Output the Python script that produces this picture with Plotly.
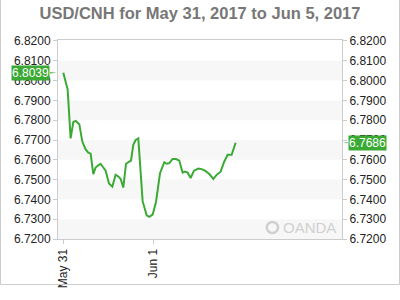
import plotly.graph_objects as go

times = [
    "2017-05-31 00:00", "2017-05-31 01:09", "2017-05-31 01:57", "2017-05-31 02:40",
    "2017-05-31 03:17", "2017-05-31 04:16", "2017-05-31 05:04", "2017-05-31 05:57",
    "2017-05-31 06:40", "2017-05-31 07:17", "2017-05-31 08:00", "2017-05-31 08:37",
    "2017-05-31 09:20", "2017-05-31 09:57", "2017-05-31 10:40", "2017-05-31 11:17",
    "2017-05-31 12:11", "2017-05-31 13:04", "2017-05-31 13:57", "2017-05-31 14:40",
    "2017-05-31 15:17", "2017-05-31 16:00", "2017-05-31 16:43", "2017-05-31 17:31",
    "2017-05-31 18:03", "2017-05-31 18:40", "2017-05-31 19:17", "2017-05-31 20:00",
    "2017-05-31 21:09", "2017-05-31 22:13", "2017-05-31 22:56", "2017-05-31 23:49",
    "2017-06-01 00:43", "2017-06-01 01:47", "2017-06-01 02:56", "2017-06-01 03:33",
    "2017-06-01 04:16", "2017-06-01 05:09", "2017-06-01 06:03", "2017-06-01 06:56",
    "2017-06-01 07:49", "2017-06-01 08:27", "2017-06-01 09:09", "2017-06-01 09:57",
    "2017-06-01 10:51", "2017-06-01 12:00", "2017-06-01 12:53", "2017-06-01 13:47",
    "2017-06-01 14:56", "2017-06-01 16:00", "2017-06-01 16:53", "2017-06-01 17:57",
    "2017-06-01 18:51", "2017-06-01 19:49", "2017-06-01 20:53", "2017-06-01 21:57",
]
rates = [
    6.8039, 6.7956, 6.7708, 6.7791, 6.7796, 6.7780, 6.7692, 6.7652,
    6.7636, 6.7631, 6.7528, 6.7561, 6.7572, 6.7580, 6.7561, 6.7545,
    6.7480, 6.7464, 6.7524, 6.7516, 6.7503, 6.7460, 6.7580, 6.7588,
    6.7596, 6.7676, 6.7700, 6.7708, 6.7391, 6.7320, 6.7312, 6.7323,
    6.7387, 6.7532, 6.7588, 6.7580, 6.7583, 6.7604, 6.7604, 6.7596,
    6.7535, 6.7540, 6.7535, 6.7508, 6.7545, 6.7556, 6.7553, 6.7545,
    6.7528, 6.7503, 6.7524, 6.7540, 6.7588, 6.7625, 6.7625, 6.7686,
]
tick_vals_x = ["2017-05-31", "2017-06-01"]
tick_text_x = ["May 31", "Jun 1"]
y_ticks = [6.72, 6.73, 6.74, 6.75, 6.76, 6.77, 6.78, 6.79, 6.80, 6.81, 6.82]
y_range = [6.72, 6.8205]
x_range = ["2017-05-30 22:35", "2017-06-03 02:19"]
title_text = "USD/CNH for May 31, 2017 to Jun 5, 2017"

GREEN = "#3aaa35"
FONT = "Liberation Sans, Arial, sans-serif"

fig = go.Figure()
fig.add_trace(go.Scatter(x=times, y=rates, mode="lines",
                         line=dict(color=GREEN, width=2), hoverinfo="skip"))
fig.add_trace(go.Scatter(x=times, y=rates, mode="lines", yaxis="y2",
                         line=dict(color="rgba(0,0,0,0)", width=0), hoverinfo="skip"))

shapes = []
# alternating bands
for i in range(0, len(y_ticks) - 1, 2):
    shapes.append(dict(type="rect", xref="paper", yref="y", x0=0, x1=1,
                       y0=y_ticks[i], y1=y_ticks[i + 1],
                       fillcolor="#f7f7f7", line=dict(width=0), layer="below"))

first_val = rates[0]
last_val = rates[-1]
dy = 0.00027
# label arrow triangles
shapes.append(dict(type="path", xref="paper", yref="y",
                   path=f"M -0.0282 {first_val+dy} L -0.0035 {first_val} L -0.0282 {first_val-dy} Z",
                   fillcolor=GREEN, line=dict(width=0)))
shapes.append(dict(type="path", xref="paper", yref="y",
                   path=f"M 1.0200 {last_val+dy} L 1.0035 {last_val} L 1.0200 {last_val-dy} Z",
                   fillcolor=GREEN, line=dict(width=0)))
# outer frame (sides and bottom)
shapes.append(dict(type="path", xref="paper", yref="paper",
                   path="M -0.2025 1.2 L -0.2025 -0.2286 L 1.2025 -0.2286 L 1.2025 1.2",
                   line=dict(color="#cccccc", width=1)))
# OANDA logo circle
shapes.append(dict(type="circle", xref="paper", yref="paper",
                   x0=0.735, x1=0.775, y0=0.03, y1=0.085,
                   line=dict(color="#cfcfcf", width=2.5)))

annotations = [
    dict(xref="paper", yref="y", x=-0.0282, y=first_val, xanchor="right", yanchor="middle",
         text=f"{first_val:.4f}", showarrow=False, bgcolor=GREEN, borderpad=0,
         font=dict(color="white", size=12, family=FONT)),
    dict(xref="paper", yref="y", x=1.0200, y=last_val, xanchor="left", yanchor="middle",
         text=f"{last_val:.4f}", showarrow=False, bgcolor=GREEN, borderpad=0,
         font=dict(color="white", size=12, family=FONT)),
    dict(xref="paper", yref="paper", x=0.785, y=0.058, xanchor="left", yanchor="middle",
         text="OANDA", showarrow=False,
         font=dict(color="#d0d0d0", size=15, family=FONT)),
]

fig.update_layout(
    width=400, height=300,
    margin=dict(l=58, r=58, t=40, b=50),
    paper_bgcolor="white", plot_bgcolor="white",
    showlegend=False,
    title=dict(text=f"<b>{title_text}</b>", x=0.5, xanchor="center",
               y=1 - 13 / 300, yanchor="middle",
               font=dict(size=16.5, color="#777777", family=FONT)),
    xaxis=dict(type="date", range=x_range, tickvals=tick_vals_x, ticktext=tick_text_x,
               tickangle=-90, showgrid=False, zeroline=False,
               showline=True, linecolor="#cccccc", mirror=True,
               ticks="outside", ticklen=4, tickcolor="#cccccc",
               tickfont=dict(size=12, color="#222222", family=FONT)),
    yaxis=dict(range=y_range, tickvals=y_ticks, tickformat=".4f", showgrid=False,
               zeroline=False, showline=True, linecolor="#cccccc", mirror=True,
               ticks="outside", ticklen=4, tickcolor="#cccccc",
               tickfont=dict(size=12, color="#222222", family=FONT)),
    yaxis2=dict(range=y_range, tickvals=y_ticks, tickformat=".4f", overlaying="y",
                side="right", showgrid=False, zeroline=False,
                ticks="outside", ticklen=4, tickcolor="#cccccc",
                tickfont=dict(size=12, color="#222222", family=FONT)),
    shapes=shapes, annotations=annotations,
)

fig.write_html("out.html")
